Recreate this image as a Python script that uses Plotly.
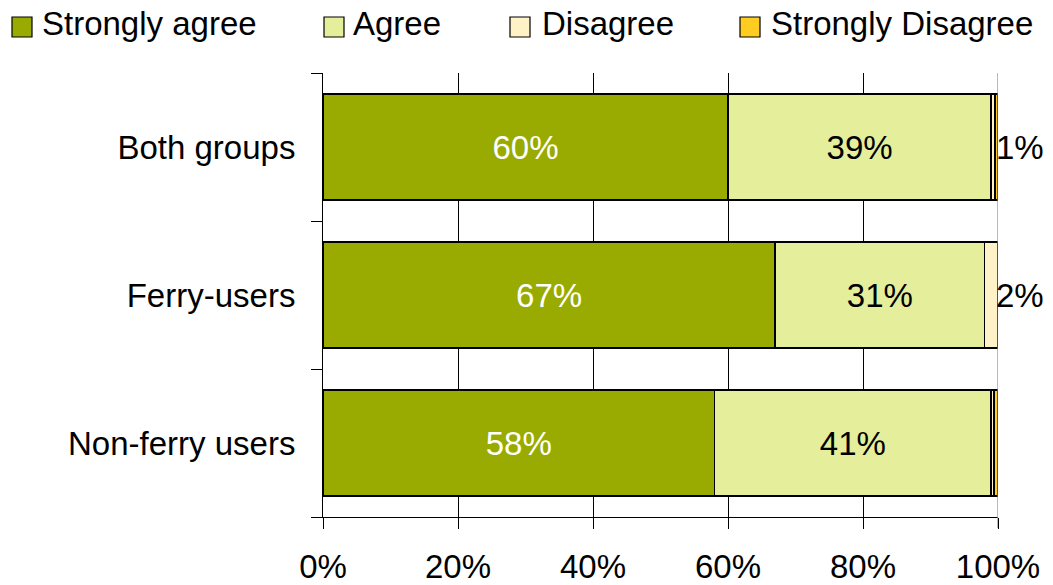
import plotly.graph_objects as go

# Survey responses, percent of respondents in each group
groups = ["Both groups", "Ferry-users", "Non-ferry users"]
strongly_agree = [60, 67, 58]
agree = [39, 31, 41]
disagree = [0.6, 2.0, 0.4]
strongly_disagree = [0.4, 0.0, 0.6]

series_names = ["Strongly agree", "Agree", "Disagree", "Strongly Disagree"]
series_values = [strongly_agree, agree, disagree, strongly_disagree]
series_colors = ["#99AB00", "#E5EE9B", "#FFF2C6", "#FFCC22"]
label_colors = ["white", "black", None, None]

x_ticks = [0, 20, 40, 60, 80, 100]
x_tick_text = ["0%", "20%", "40%", "60%", "80%", "100%"]

FONT = "Liberation Sans, Arial, sans-serif"
FS = 33

W, H = 1053, 585
ML, MR, MT, MB = 323, 55, 73, 68
PW, PH = W - ML - MR, H - MT - MB


def px_x(px):
    return (px - ML) / PW


def px_y(py):
    return (H - MB - py) / PH


fig = go.Figure()
for name, vals, col, lab in zip(series_names, series_values, series_colors, label_colors):
    fig.add_trace(go.Bar(
        name=name,
        y=groups,
        x=vals,
        orientation="h",
        marker=dict(color=col, line=dict(color="black", width=1.8)),
        text=[f"{round(v)}%" for v in vals] if lab else None,
        textposition="inside" if lab else "none",
        insidetextanchor="middle",
        textangle=0,
        constraintext="none",
        textfont=dict(family=FONT, size=FS, color=lab or "black"),
        showlegend=False,
        hoverinfo="skip",
    ))

# Small "disagree" shares are labelled beside the bar end
for g, d in zip(groups, disagree):
    if round(d) >= 1:
        fig.add_annotation(
            x=100, y=g, xref="x", yref="y",
            text=f"{round(d)}%", showarrow=False,
            xanchor="center", xshift=22,
            font=dict(family=FONT, size=FS, color="black"),
        )

# Right edge of the value axis in grey
fig.add_shape(type="line", xref="x", yref="paper", x0=100, x1=100,
              y0=-11 / PH, y1=1, line=dict(color="#8C8C8C", width=1.2), layer="above")

# Legend row across the top
legend_swatch_px = [12, 324, 510, 740]
legend_text_px = [40, 351, 540, 769]
for name, col, sx, tx in zip(series_names, series_colors, legend_swatch_px, legend_text_px):
    fig.add_shape(type="rect", xref="paper", yref="paper",
                  x0=px_x(sx), x1=px_x(sx + 20), y0=px_y(37), y1=px_y(17),
                  fillcolor=col, line=dict(color="black", width=1.2))
    fig.add_annotation(x=px_x(tx), y=px_y(23), xref="paper", yref="paper",
                       text=name, showarrow=False, xanchor="left", yanchor="middle",
                       font=dict(family=FONT, size=FS, color="black"))

fig.update_layout(
    width=W, height=H,
    margin=dict(l=ML, r=MR, t=MT, b=MB, pad=0),
    barmode="stack",
    bargap=0.28,
    plot_bgcolor="white",
    paper_bgcolor="white",
    font=dict(family=FONT, size=FS, color="black"),
    showlegend=False,
)
fig.update_xaxes(
    range=[0, 100],
    tickvals=x_ticks, ticktext=x_tick_text,
    showgrid=True, gridcolor="black", gridwidth=1,
    showline=True, linecolor="black", linewidth=1,
    ticks="outside", ticklen=11, tickcolor="black", tickwidth=1,
    ticklabelstandoff=9,
    zeroline=False,
    automargin=False,
    tickfont=dict(family=FONT, size=FS, color="black"),
)
fig.update_yaxes(
    categoryorder="array", categoryarray=groups[::-1],
    showgrid=False,
    showline=True, linecolor="black", linewidth=1,
    ticks="outside", tickson="boundaries", ticklen=11, tickcolor="black", tickwidth=1,
    ticklabelstandoff=20,
    automargin=False,
    tickfont=dict(family=FONT, size=FS, color="black"),
)

fig.write_html("out.html")
